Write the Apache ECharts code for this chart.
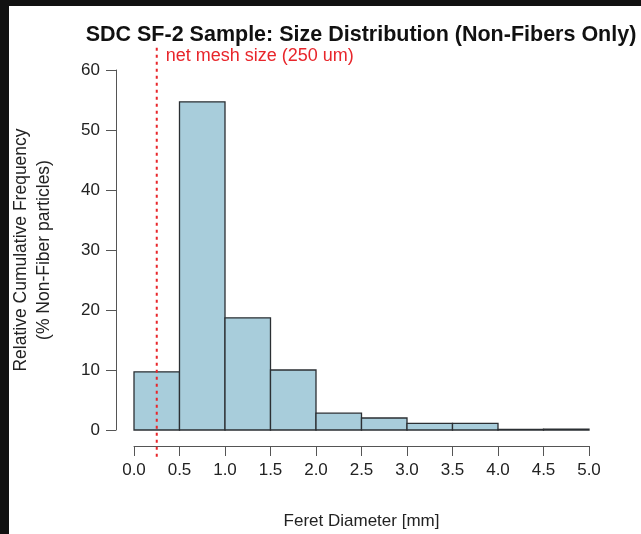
<!DOCTYPE html>
<html><head><meta charset="utf-8">
<script src="https://cdn.jsdelivr.net/npm/echarts@6/dist/echarts.min.js"></script>
<style>html,body{margin:0;padding:0;background:#111;}#c{position:absolute;left:9px;top:6px;width:632px;height:528px;background:#fff;}</style>
</head><body><div id="c"></div>
<script>
var binStart = [0.0, 0.5, 1.0, 1.5, 2.0, 2.5, 3.0, 3.5, 4.0, 4.5];
var binEnd   = [0.5, 1.0, 1.5, 2.0, 2.5, 3.0, 3.5, 4.0, 4.5, 5.0];
var freq     = [9.7, 54.7, 18.7, 10.0, 2.8, 2.0, 1.1, 1.1, 0.1, 0.15];
var meshSize = 0.25;
var meshLabel = 'net mesh size (250 um)';
var xTicks = [0, 0.5, 1, 1.5, 2, 2.5, 3, 3.5, 4, 4.5, 5];
var yTicks = [0, 10, 20, 30, 40, 50, 60];

var chart = echarts.init(document.getElementById('c'), null, {renderer: 'canvas'});
var FONT = 'Liberation Sans, Arial, sans-serif';
chart.setOption({
  animation: false,
  title: {
    text: 'SDC SF-2 Sample: Size Distribution (Non-Fibers Only)',
    left: 347, top: 13, textAlign: 'center',
    textStyle: {fontFamily: FONT, fontSize: 21.5, fontWeight: 'bold', color: '#111'}
  },
  grid: {left: 125, right: 52, top: 64, bottom: 104, outerBoundsMode: 'none', containLabel: false},
  xAxis: {
    type: 'value', min: 0, max: 5, interval: 0.5,
    offset: 16,
    name: 'Feret Diameter [mm]', nameLocation: 'middle', nameGap: 67,
    nameTextStyle: {fontFamily: FONT, fontSize: 17, color: '#222'},
    axisLine: {show: true, onZero: false, lineStyle: {color: '#555', width: 1}},
    axisTick: {show: true, length: 10, lineStyle: {color: '#555'}},
    splitLine: {show: false},
    axisLabel: {fontFamily: FONT, fontSize: 17, color: '#222', margin: 16,
      formatter: function (v) { return v.toFixed(1); }}
  },
  yAxis: {
    type: 'value', min: 0, max: 60, interval: 10,
    offset: 18,
    name: 'Relative Cumulative Frequency\n(% Non-Fiber particles)',
    nameLocation: 'middle', nameGap: 60, nameRotate: 90,
    nameTextStyle: {fontFamily: FONT, fontSize: 17.5, color: '#222', lineHeight: 23},
    axisLine: {show: true, onZero: false, lineStyle: {color: '#555', width: 1}},
    axisTick: {show: true, length: 10, lineStyle: {color: '#555'}},
    splitLine: {show: false},
    axisLabel: {fontFamily: FONT, fontSize: 17, color: '#222', margin: 16}
  },
  series: [{
    type: 'custom',
    clip: false,
    data: binStart.map(function (s, i) { return [s, binEnd[i], freq[i]]; }),
    renderItem: function (params, api) {
      var p0 = api.coord([api.value(0), 0]);
      var p1 = api.coord([api.value(1), api.value(2)]);
      return {
        type: 'rect',
        shape: {x: p0[0], y: p1[1], width: p1[0] - p0[0], height: p0[1] - p1[1]},
        style: {fill: '#a8cddb', stroke: '#2b2f33', lineWidth: 1.3}
      };
    }
  }, {
    type: 'custom',
    clip: false,
    data: [[meshSize]],
    renderItem: function (params, api) {
      var top = api.coord([api.value(0), 63.7]);
      var bot = api.coord([api.value(0), -4.5]);
      return {
        type: 'group',
        children: [{
          type: 'line',
          shape: {x1: top[0], y1: top[1], x2: bot[0], y2: bot[1]},
          style: {stroke: '#e8262b', lineWidth: 2, lineDash: [3, 4]}
        }, {
          type: 'text',
          style: {x: top[0] + 9, y: top[1] + 8, text: meshLabel,
            fill: '#e8262b', font: '18px ' + FONT, textVerticalAlign: 'middle'}
        }]
      };
    }
  }]
});
</script></body></html>
